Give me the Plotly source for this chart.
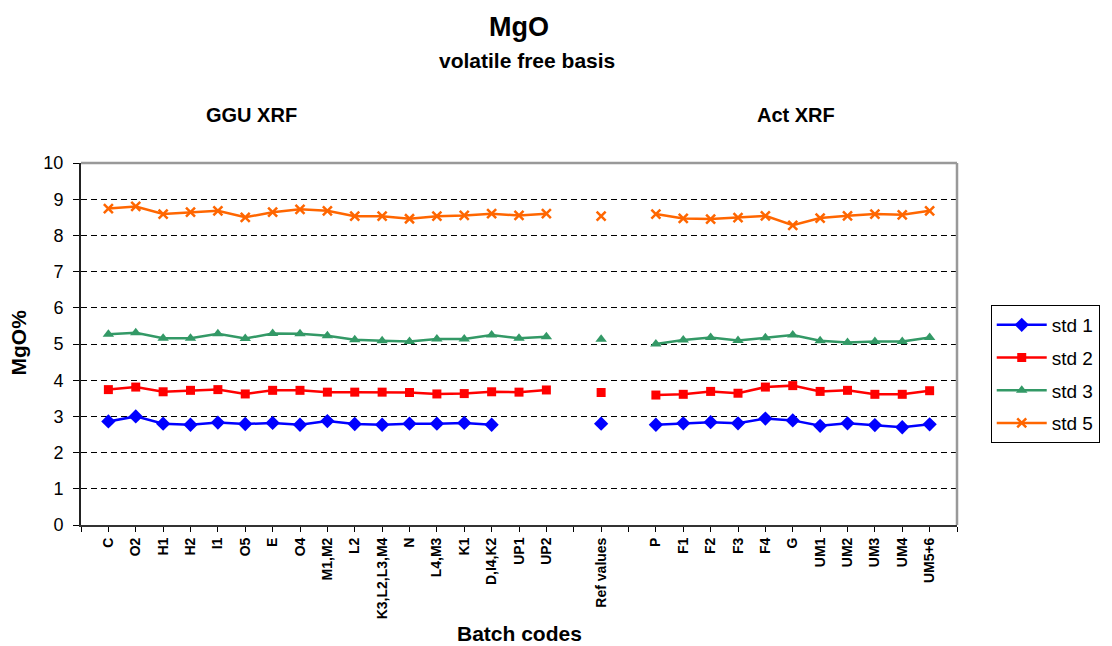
import plotly.graph_objects as go

categories = ["C", "O2", "H1", "H2", "I1", "O5", "E", "O4", "M1,M2", "L2",
              "K3,L2,L3,M4", "N", "L4,M3", "K1", "D,I4,K2", "UP1", "UP2", "",
              "Ref values", "", "P", "F1", "F2", "F3", "F4", "G", "UM1", "UM2",
              "UM3", "UM4", "UM5+6"]

std1 = [2.86, 3.00, 2.80, 2.77, 2.83, 2.79, 2.82, 2.77, 2.87, 2.79, 2.77, 2.80,
        2.80, 2.82, 2.77, None, None, None, 2.80, None, 2.77, 2.81, 2.84, 2.81,
        2.94, 2.89, 2.74, 2.81, 2.76, 2.70, 2.78]
std2 = [3.74, 3.81, 3.68, 3.72, 3.74, 3.62, 3.72, 3.72, 3.67, 3.67, 3.67, 3.66,
        3.62, 3.63, 3.68, 3.67, 3.73, None, 3.66, None, 3.59, 3.61, 3.69, 3.64,
        3.81, 3.85, 3.69, 3.72, 3.61, 3.61, 3.71]
std3 = [5.27, 5.31, 5.16, 5.16, 5.28, 5.15, 5.29, 5.28, 5.23, 5.12, 5.09, 5.07,
        5.14, 5.14, 5.25, 5.16, 5.20, None, 5.13, None, 5.00, 5.11, 5.18, 5.10,
        5.17, 5.25, 5.09, 5.04, 5.07, 5.07, 5.18]
std5 = [8.74, 8.80, 8.59, 8.64, 8.68, 8.50, 8.64, 8.72, 8.68, 8.53, 8.53, 8.46,
        8.53, 8.55, 8.60, 8.55, 8.60, None, 8.53, None, 8.59, 8.47, 8.45, 8.49,
        8.54, 8.28, 8.48, 8.54, 8.59, 8.57, 8.68]

series_names = ["std 1", "std 2", "std 3", "std 5"]
y_ticks = list(range(0, 11))

FONT = "Liberation Sans, Arial, sans-serif"
W, H = 1112, 646
L, R, T, B = 81, 148, 163, 121
PW, PH = W - L - R, H - T - B

def px(x):
    return (x - L) / PW

def py(y):
    return (H - B - y) / PH

xpos = list(range(1, len(categories) + 1))

styles = [
    dict(color="#0000FF", symbol="diamond", size=11, lw=0),
    dict(color="#FF0000", symbol="square", size=9, lw=0),
    dict(color="#339966", symbol="triangle-up", size=10, lw=0),
    dict(color="#FF6600", symbol="x-thin", size=9, lw=2.5),
]

fig = go.Figure()
for name, vals, st in zip(series_names, [std1, std2, std3, std5], styles):
    fig.add_trace(go.Scatter(
        x=xpos, y=vals, name=name, mode="lines+markers",
        legendgroup=name, connectgaps=False,
        line=dict(color=st["color"], width=2.5),
        marker=dict(color=st["color"], symbol=st["symbol"], size=st["size"],
                    line=dict(color=st["color"], width=st["lw"])),
    ))

tickvals = list(range(0, len(categories) + 2))
ticktext = [""] + categories + [""]

fig.update_layout(
    width=W, height=H,
    margin=dict(l=L, r=R, t=T, b=B, pad=0),
    paper_bgcolor="white", plot_bgcolor="white",
    font=dict(family=FONT, color="black"),
    showlegend=True,
    legend=dict(
        x=px(998), y=py(305), xanchor="left", yanchor="top",
        bordercolor="black", borderwidth=1, bgcolor="white",
        font=dict(family=FONT, size=19, color="black"),
        traceorder="grouped", tracegroupgap=5, itemwidth=50,
    ),
    xaxis=dict(
        range=[0, len(categories) + 1], tickmode="array",
        tickvals=tickvals, ticktext=ticktext, tickangle=-90,
        ticks="outside", ticklen=5, tickcolor="black", tickwidth=1,
        tickfont=dict(family=FONT, size=14, color="black", weight="bold"),
        showgrid=False, zeroline=False, showline=True,
        linecolor="#333333", linewidth=2,
        fixedrange=True,
    ),
    yaxis=dict(
        range=[0, 10], tickmode="array", tickvals=y_ticks,
        ticks="outside", ticklen=6, tickcolor="black", tickwidth=1,
        tickfont=dict(family=FONT, size=18, color="black"),
        ticklabelstandoff=6,
        showgrid=True, gridcolor="black", gridwidth=1, griddash="6px,4px",
        zeroline=False, showline=True, linecolor="#222222", linewidth=2,
        fixedrange=True,
    ),
    shapes=[
        dict(type="line", xref="paper", yref="paper", x0=0, x1=1, y0=1, y1=1,
             line=dict(color="#999999", width=2.5)),
        dict(type="line", xref="paper", yref="paper", x0=1, x1=1, y0=0, y1=1,
             line=dict(color="#999999", width=2.5)),
    ],
    annotations=[
        dict(text="<b>MgO</b>", x=px(522), y=py(27), xref="paper", yref="paper",
             xanchor="center", yanchor="middle", showarrow=False,
             font=dict(family=FONT, size=27, color="black")),
        dict(text="<b>volatile free basis</b>", x=px(531), y=py(60), xref="paper",
             yref="paper", xanchor="center", yanchor="middle", showarrow=False,
             font=dict(family=FONT, size=21, color="black")),
        dict(text="<b>GGU XRF</b>", x=px(253), y=py(115), xref="paper", yref="paper",
             xanchor="center", yanchor="middle", showarrow=False,
             font=dict(family=FONT, size=20, color="black")),
        dict(text="<b>Act XRF</b>", x=px(802), y=py(115), xref="paper", yref="paper",
             xanchor="center", yanchor="middle", showarrow=False,
             font=dict(family=FONT, size=20, color="black")),
        dict(text="<b>Batch codes</b>", x=px(523), y=py(633), xref="paper",
             yref="paper", xanchor="center", yanchor="middle", showarrow=False,
             font=dict(family=FONT, size=21, color="black")),
        dict(text="<b>MgO%</b>", x=px(18), y=py(342), xref="paper", yref="paper",
             xanchor="center", yanchor="middle", showarrow=False, textangle=-90,
             font=dict(family=FONT, size=21, color="black")),
    ],
)

fig.write_html(
    "out.html",
    config={"displayModeBar": False},
    post_script="document.body.style.margin='0';document.body.style.overflow='hidden';",
)
